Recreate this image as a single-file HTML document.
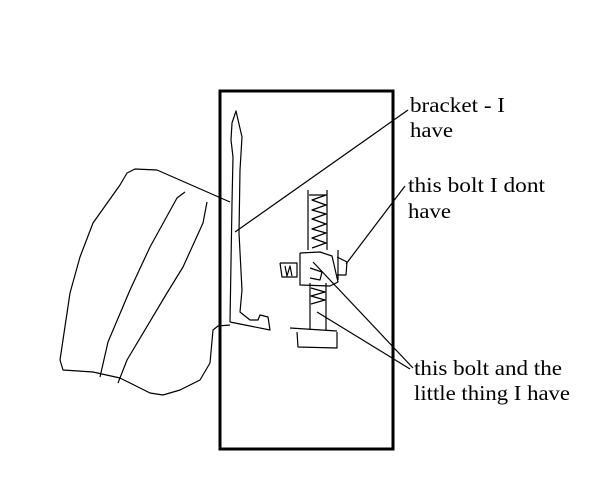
<!DOCTYPE html>
<html><head><style>
html,body{margin:0;padding:0;background:#fff;}
svg{display:block}
text{font-family:"Liberation Serif",serif;font-size:21px;fill:#000}
</style></head><body>
<svg width="603" height="503" viewBox="0 0 603 503" xmlns="http://www.w3.org/2000/svg">
<rect x="0" y="0" width="603" height="503" fill="#fff"/>
<g fill="none" stroke="#000" stroke-width="1.2" stroke-linejoin="round">
<!-- blob -->
<polyline points="230,202 157,170 135,169 127,173 120,185 93,223 80,257 70,293 60,360 63,370 93,372 120,378 150,393 163,395 180,390 200,380 210,363 213,330 218,326 230,325"/>
<polyline points="185,192 177,198 150,247 130,290 108,342 100,377"/>
<polyline points="207,202 203,223 183,267 167,293 127,360 118,383"/>
<!-- bracket -->
<polyline points="230,322 232,203 233,157 231,140 232,123 236,111 242,137 240,170 239,233 242,290 240,312 250,320 258,320 260,315 268,317 270,330 230,322"/>
<!-- bolt threads -->
<polyline points="308,190 308,250"/>
<polyline points="327,190 327,250"/>
<polyline points="309,195 326,195 312,200 326,205 312,210 326,214 312,219 326,224 312,229 326,233 312,238 326,243 312,248"/>
<!-- nut body -->
<polyline points="300,253 300,285 330,286 338,282 332,256 320,252 300,253"/>
<polyline points="280,263 297,263 297,277 282,277 280,263"/>
<polyline points="285,266 287,276 290,266 292,276"/>
<polyline points="337,257 347,262 346,275 337,275"/>
<polyline points="338,250 338,280"/>
<polyline points="310,268 322,272 320,280 310,278"/>
<!-- lower shaft -->
<polyline points="310,283 310,330"/>
<polyline points="326,283 326,330"/>
<polyline points="311,288 325,292 311,296 325,300 311,304"/>
<polyline points="290,328 337,331"/>
<polyline points="297,332 298,347 337,348 337,332"/>
<!-- leaders -->
<line x1="235" y1="232" x2="408" y2="110"/>
<line x1="346" y1="264" x2="405" y2="186"/>
<line x1="313" y1="262" x2="413" y2="368"/>
<line x1="317" y1="312" x2="410" y2="369"/>
</g>
<rect x="220" y="91" width="173" height="358" fill="none" stroke="#000" stroke-width="3"/>
<text x="410" y="112" textLength="95" lengthAdjust="spacingAndGlyphs">bracket - I</text>
<text x="410" y="137" textLength="43" lengthAdjust="spacingAndGlyphs">have</text>
<text x="408" y="192" textLength="137" lengthAdjust="spacingAndGlyphs">this bolt I dont</text>
<text x="408" y="218" textLength="43" lengthAdjust="spacingAndGlyphs">have</text>
<text x="414" y="375" textLength="148" lengthAdjust="spacingAndGlyphs">this bolt and the</text>
<text x="414" y="400" textLength="156" lengthAdjust="spacingAndGlyphs">little thing I have</text>
</svg>
</body></html>
